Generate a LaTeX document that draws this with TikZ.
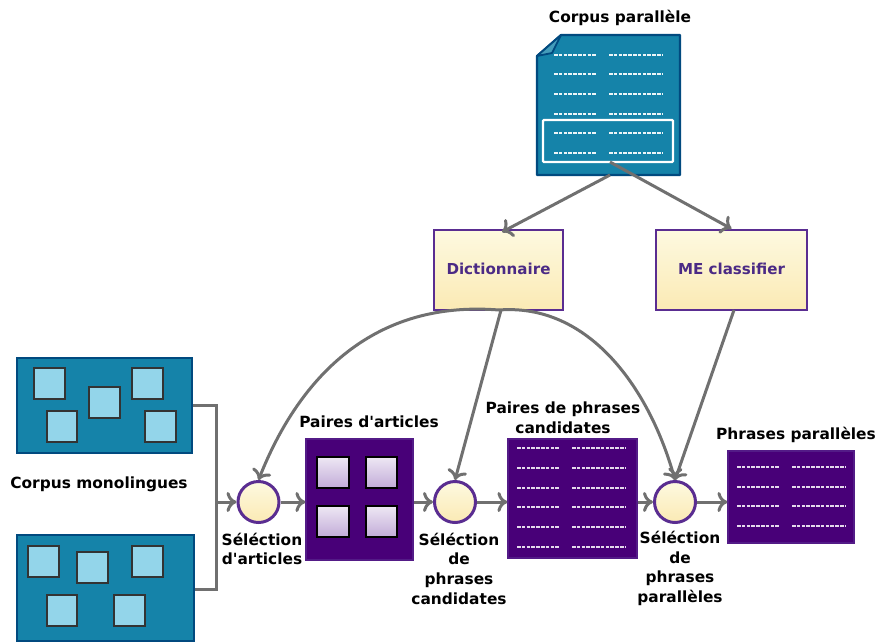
\documentclass[tikz,border=0pt]{standalone}
\usepackage{fontspec}
\setmainfont{DejaVu Sans}[Ligatures=TeXOff]
\usetikzlibrary{arrows.meta,calc}
\definecolor{bluefill}{HTML}{1583A9}
\definecolor{blueline}{HTML}{014A7F}
\definecolor{lightblue}{HTML}{93D5EA}
\definecolor{darksq}{HTML}{333333}
\definecolor{purplefill}{HTML}{480078}
\definecolor{purpleline}{HTML}{5A2D91}
\definecolor{conn}{HTML}{707070}
\definecolor{labelpurple}{HTML}{4B2A85}
\definecolor{ytop}{HTML}{FDF9E0}
\definecolor{ybot}{HTML}{FBEAB4}
\definecolor{sqtop}{HTML}{EEE8F4}
\definecolor{sqbot}{HTML}{C2ABD8}
\tikzset{
  x=1pt,y=-1pt,
  blubox/.style={draw=blueline,line width=2.2pt,fill=bluefill},
  blusq/.style={draw=darksq,line width=2.6pt,fill=lightblue},
  purbox/.style={draw=purpleline!60!purplefill,line width=1.2pt,fill=purplefill},
  pursq/.style={draw=black,line width=2.8pt,top color=sqtop,bottom color=sqbot},
  yel/.style={draw=purpleline,line width=2.4pt,top color=ytop,bottom color=ybot,inner sep=0pt},
  yelc/.style={yel,line width=3pt,circle,minimum size=41pt},
  conline/.style={draw=conn,line width=3pt},
  arr/.style={conline,-{Computer Modern Rightarrow[length=10pt,width=20pt,line width=3pt]}},
  lab/.style={font=\fontsize{15.4}{19.7}\selectfont\bfseries,align=center,inner sep=0pt,text=black},
  boxlab/.style={font=\fontsize{15.1}{19.7}\selectfont\bfseries,text=labelpurple,inner sep=0pt},
  dashw/.style={draw=white!92!bluefill,line width=1.3pt,dash pattern=on 3.6pt off 1.2pt},
  dashp/.style={draw=white!85!purplefill,line width=1.3pt,dash pattern=on 3.6pt off 1.2pt},
}
\newcommand{\sqbox}[5]{\path[#1] (#2,#3) rectangle (#4,#5);}
\begin{document}
\begin{tikzpicture}
\useasboundingbox (0,0) rectangle (878,641);
% corpus parallèle document
\node[minimum width=143pt,minimum height=140pt,inner sep=0pt] (doc) at (608.5,105) {};
\draw[blubox,line join=round] (537,56) -- (561,35) -- (680,35) -- (680,175) -- (537,175) -- cycle;
\draw[draw=blueline,line width=1.8pt,fill=bluefill!80!white,line join=round] (537,56) -- (552,53) -- (561,35) -- cycle;
\foreach \y in {55,74,94,114,133,153}{
  \path[dashw] (554,\y) -- (597,\y);
  \path[dashw] (609,\y) -- (662,\y);
}
\node[draw=white,line width=2.4pt,rounded corners=1pt,minimum width=130pt,minimum height=42pt,inner sep=0pt] (hl) at (608,141) {};
\node[lab] (tdoc) at (620,18) {Corpus parallèle};
\coordinate (docL) at (610,175);
\coordinate (docR) at (610,162);
% classifier boxes
\node[yel,shape=rectangle,minimum width=129pt,minimum height=80pt] (dict) at (498.5,270) {};
\node[boxlab] (tdict) at (498.5,269) {Dictionnaire};
\node[yel,shape=rectangle,minimum width=151pt,minimum height=80pt] (me) at (731.5,270) {};
\node[boxlab] (tme) at (731.5,269) {ME classifier};
% monolingual corpora
\node[blubox,minimum width=175pt,minimum height=95pt,inner sep=0pt] (m1) at (104.5,405.5) {};
\node[blubox,minimum width=177pt,minimum height=106pt,inner sep=0pt] (m2) at (105.5,588) {};
\sqbox{blusq}{34}{368}{65}{399}
\sqbox{blusq}{89}{387}{120}{418}
\sqbox{blusq}{132}{368}{163}{399}
\sqbox{blusq}{47}{411}{77}{442}
\sqbox{blusq}{145}{411}{176}{442}
\sqbox{blusq}{28}{546}{59}{577}
\sqbox{blusq}{77}{552}{108}{583}
\sqbox{blusq}{132}{546}{163}{577}
\sqbox{blusq}{47}{595}{77}{626}
\sqbox{blusq}{114}{595}{145}{626}
\node[lab] (tmono) at (99,484) {Corpus monolingues};
% circles
\node[yelc] (c1) at (258.5,502) {};
\node[yelc] (c2) at (455,502) {};
\node[yelc] (c3) at (675,502) {};
% pairs of articles
\node[purbox,minimum width=107pt,minimum height=121pt,inner sep=0pt] (pa) at (359.5,499.5) {};
\sqbox{pursq}{317}{457}{349}{488}
\sqbox{pursq}{366}{457}{397}{488}
\sqbox{pursq}{317}{506}{349}{537}
\sqbox{pursq}{366}{506}{397}{537}
% candidates
\node[purbox,minimum width=129pt,minimum height=119pt,inner sep=0pt] (pc) at (572.5,498.5) {};
\foreach \y in {448,468,488,507,527,547}{
  \path[dashp] (517,\y) -- (560,\y);
  \path[dashp] (572,\y) -- (625,\y);
}
% parallel phrases
\node[purbox,minimum width=126pt,minimum height=92pt,inner sep=0pt] (pp) at (791,497) {};
\foreach \y in {467,487,506,526}{
  \path[dashp] (737,\y) -- (780,\y);
  \path[dashp] (792,\y) -- (845,\y);
}
% labels
\node[lab] (t1) at (262,549) {Séléction\\d'articles};
\node[lab] (t2) at (369,422) {Paires d'articles};
\node[lab] (t3) at (459,568.5) {Séléction\\de\\phrases\\candidates};
\node[lab] (t4) at (563,417.5) {Paires de phrases\\candidates};
\node[lab] (t5) at (680,568.5) {Séléction\\de\\phrases\\parallèles};
\node[lab] (t6) at (796,435) {Phrases parallèles};
% connectors
\coordinate (j) at (216,502);
\coordinate (d1) at (502,232);
\draw[arr] (docL) -- (d1);
\draw[arr] (docR) -- (me.north);
\draw[conline,line join=miter] (m1.east |- 0,405) -- (216,405) -- (216,589) -- (m2.east |- 0,589);
\draw[arr] (j) -- (c1.west);
\draw[arr] (c1.east) -- (pa.west |- c1);
\draw[arr] (pa.east |- c2) -- (c2.west);
\draw[arr] (c2.east) -- (pc.west |- c2);
\draw[arr] (pc.east |- c3) -- (c3.west);
\draw[arr] (c3.east) -- (pp.west |- c3);
\coordinate (ds) at (499,310);
\draw[arr] (ds) .. controls (375,300) and (300,375) .. (c1.north);
\draw[arr] (ds) .. controls (590,303) and (650,390) .. (c3.north);
\draw[arr] (501,310) -- (c2.north);
\draw[arr] (734,310) -- (c3.north);
\end{tikzpicture}
\end{document}
